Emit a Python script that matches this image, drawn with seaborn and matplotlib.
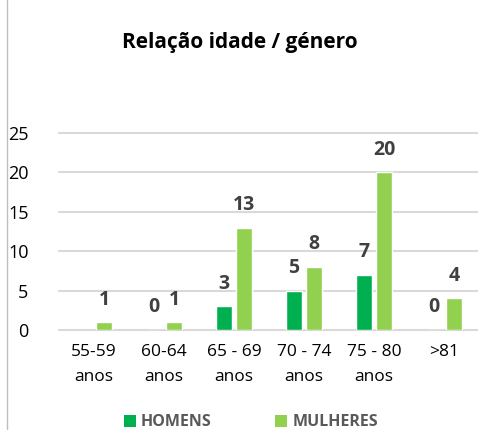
import numpy as np
import pandas as pd
import matplotlib
matplotlib.use('Agg')
import matplotlib.pyplot as plt
import seaborn as sns
from matplotlib.lines import Line2D
from matplotlib.patches import Patch


categories = ['55-59\nanos', '60-64\nanos', '65 - 69\nanos', '70 - 74\nanos', '75 - 80\nanos', '>81']
homens = [np.nan, 0, 3, 5, 7, 0]
mulheres = [1, 1, 13, 8, 20, 4]
series = ['Homens', 'Mulheres']
colors = ['#00B050', '#92D050']

df = pd.DataFrame({
    'Idade': categories * 2,
    'Genero': ['Homens'] * len(categories) + ['Mulheres'] * len(categories),
    'Valor': homens + mulheres,
})

sns.set_theme(style='white')
plt.rcParams['font.family'] = ['Open Sans', 'DejaVu Sans']

fig = plt.figure(figsize=(4.78, 4.30), dpi=100)
ax = fig.add_axes([0.1234, 0.2326, 0.8787, 0.4581])

sns.barplot(data=df, x='Idade', y='Valor', hue='Genero', order=categories,
            hue_order=series, palette=colors, width=0.571, gap=0.2,
            saturation=1, ax=ax, legend=False)

for cont in ax.containers:
    ax.bar_label(cont, labels=['' if np.isnan(v) else f'{v:.0f}' for v in cont.datavalues],
                 padding=9, fontsize=14, fontweight='bold', color='#404040')

ax.set_xlim(-0.5, 5.5)
ax.set_ylim(0, 25)
ax.set_yticks(range(0, 26, 5))
ax.yaxis.grid(True, color='#D9D9D9', linewidth=1.5)
for g in ax.get_ygridlines():
    g.set_clip_on(False)
ax.set_axisbelow(True)
for s in ax.spines.values():
    s.set_visible(False)
ax.set_xlabel('')
ax.set_ylabel('')
ax.tick_params(axis='y', labelsize=13, colors='#000000', pad=22, length=0)
ax.tick_params(axis='x', labelsize=12.5, colors='#000000', pad=10, length=0)
for t in ax.get_xticklabels():
    t.set_linespacing(1.75)

fig.text(0.502, 0.902, 'Relação idade / género', ha='center', va='center',
         fontsize=15, fontweight='bold', color='#000000')

handles = [Patch(facecolor=c, edgecolor='none') for c in colors]
leg = fig.legend(handles, ['HOMENS', 'MULHERES'], loc='center', bbox_to_anchor=(0.525, 0.018),
                 ncol=2, frameon=False, handlelength=0.75, handleheight=0.75,
                 handletextpad=0.3, columnspacing=4.0,
                 prop={'size': 11.5, 'weight': 'bold'})
for t in leg.get_texts():
    t.set_color('#595959')

fig.add_artist(Line2D([0.015, 0.015], [0, 1], transform=fig.transFigure,
                      color='#BFBFBF', linewidth=1))

fig.savefig('out.png', dpi=100)
